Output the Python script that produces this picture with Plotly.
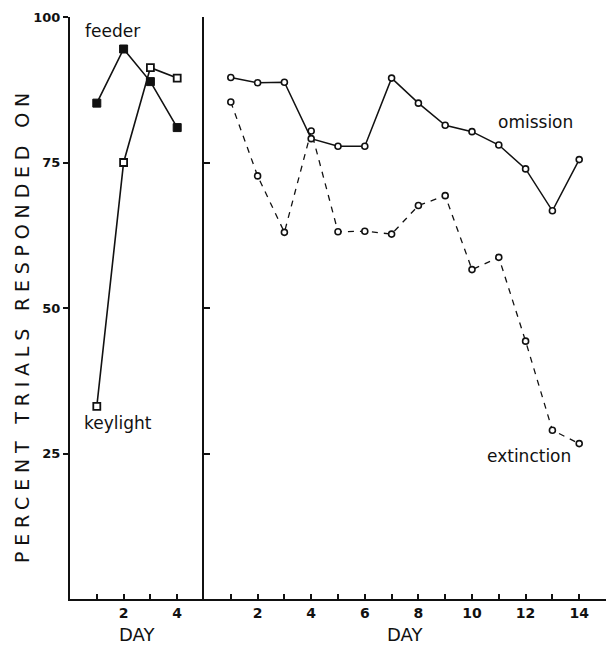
import plotly.graph_objects as go

# ---- data ----
days_left = [1, 2, 3, 4]
feeder = [85.2, 94.5, 88.9, 81.0]
keylight = [33.1, 75.0, 91.3, 89.5]

days_right = [1, 2, 3, 4, 5, 6, 7, 8, 9, 10, 11, 12, 13, 14]
omission = [89.6, 88.7, 88.8, 79.1, 77.8, 77.8, 89.5, 85.2, 81.4, 80.3, 78.0, 73.9, 66.7, 75.5]
extinction = [85.4, 72.7, 63.0, 80.4, 63.1, 63.2, 62.7, 67.6, 69.3, 56.6, 58.7, 44.3, 29.0, 26.7]

left_tickvals = [1, 2, 3, 4]
left_ticktext = ["", "2", "", "4"]
right_tickvals = list(range(1, 15))
right_ticktext = ["" if d % 2 else str(d) for d in right_tickvals]
y_tickvals = [25, 50, 75, 100]
y_ticktext = ["25", "50", "75", "100"]

FONT = "DejaVu Sans"
BLACK = "#111111"

fig = go.Figure()

fig.add_trace(go.Scatter(
    x=days_left, y=keylight, mode="lines+markers", xaxis="x", yaxis="y",
    line=dict(color=BLACK, width=1.6),
    marker=dict(symbol="square", size=7, color="white", line=dict(color=BLACK, width=1.8)),
    showlegend=False))
fig.add_trace(go.Scatter(
    x=days_left, y=feeder, mode="lines+markers", xaxis="x", yaxis="y",
    line=dict(color=BLACK, width=1.6),
    marker=dict(symbol="square", size=8, color=BLACK, line=dict(color=BLACK, width=1)),
    showlegend=False))

fig.add_trace(go.Scatter(
    x=days_right, y=extinction, mode="lines+markers", xaxis="x2", yaxis="y2",
    line=dict(color=BLACK, width=1.3, dash="6px,6px"),
    marker=dict(symbol="circle", size=6, color="white", line=dict(color=BLACK, width=1.6)),
    showlegend=False))
fig.add_trace(go.Scatter(
    x=days_right, y=omission, mode="lines+markers", xaxis="x2", yaxis="y2",
    line=dict(color=BLACK, width=1.5),
    marker=dict(symbol="circle", size=6, color="white", line=dict(color=BLACK, width=1.6)),
    showlegend=False))

d1 = 134 / 536

axis_common = dict(showgrid=False, zeroline=False, showline=True, linecolor=BLACK, linewidth=2,
                   ticks="inside", ticklen=5, tickwidth=1.5, tickcolor=BLACK,
                   tickfont=dict(family=FONT, size=14, color=BLACK, weight="bold"))

fig.update_layout(
    width=606, height=647,
    margin=dict(l=70, r=0, t=17, b=48),
    paper_bgcolor="white", plot_bgcolor="white",
    xaxis=dict(domain=[0, d1], range=[0, 5], anchor="y",
               tickvals=left_tickvals, ticktext=left_ticktext, **axis_common),
    xaxis2=dict(domain=[d1, 1], range=[0, 15], anchor="y2",
                tickvals=right_tickvals, ticktext=right_ticktext, **axis_common),
    yaxis=dict(range=[0, 100], anchor="x", showgrid=False, zeroline=False, showline=True,
               linecolor=BLACK, linewidth=2, ticks="outside", ticklen=5, tickwidth=1.5,
               tickcolor=BLACK, tickvals=y_tickvals, ticktext=y_ticktext,
               tickfont=dict(family=FONT, size=13, color=BLACK, weight="bold")),
    yaxis2=dict(range=[0, 100], anchor="x2", showgrid=False, zeroline=False, showline=True,
                linecolor=BLACK, linewidth=2, ticks="inside", ticklen=6, tickwidth=1.5,
                tickcolor=BLACK, tickvals=y_tickvals, showticklabels=False),
)

def px_x(px):
    return (px - 70) / 536

def px_y(py):
    return (599 - py) / 582

annots = [
    ("feeder", 112, 31, 17),
    ("keylight", 118, 423, 17),
    ("omission", 535, 122, 17),
    ("extinction", 529, 456, 17),
    ("DAY", 137, 634, 18),
    ("DAY", 405, 634, 18),
]
for text, x, y, size in annots:
    fig.add_annotation(x=px_x(x), y=px_y(y), xref="paper", yref="paper", text=text,
                       showarrow=False, xanchor="center", yanchor="middle",
                       font=dict(family=FONT, size=size, color=BLACK))

fig.add_annotation(x=px_x(22), y=px_y(325), xref="paper", yref="paper",
                   text='<span style="letter-spacing:5.8px">PERCENT TRIALS RESPONDED ON</span>',
                   textangle=-90, showarrow=False, xanchor="center", yanchor="middle",
                   font=dict(family=FONT, size=19, color=BLACK))

fig.write_html("out.html", config={"displayModeBar": False},
               post_script="document.body.style.margin='0';document.body.style.overflow='hidden';")
